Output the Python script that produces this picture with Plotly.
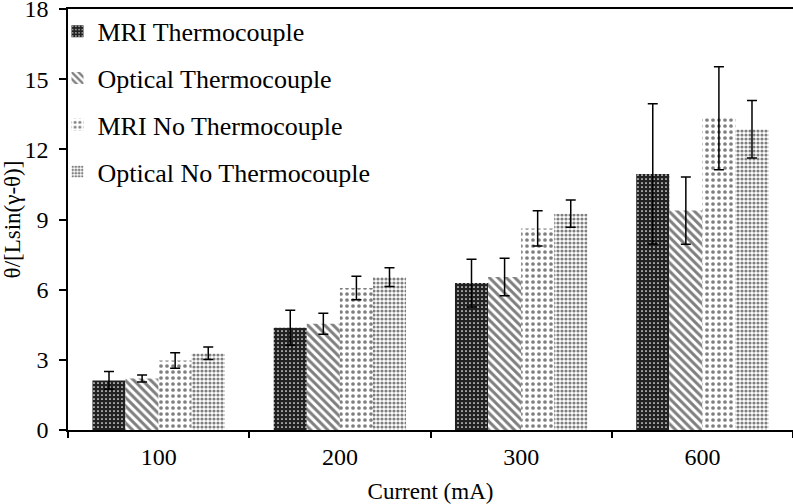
import plotly.graph_objects as go

categories = ["100", "200", "300", "600"]
series_names = ["MRI Thermocouple", "Optical Thermocouple", "MRI No Thermocouple", "Optical No Thermocouple"]
mri_tc = [2.12, 4.37, 6.28, 10.95]
mri_tc_err = [0.38, 0.75, 1.02, 3.0]
opt_tc = [2.2, 4.54, 6.54, 9.38]
opt_tc_err = [0.15, 0.45, 0.8, 1.44]
mri_ntc = [2.97, 6.07, 8.62, 13.33]
mri_ntc_err = [0.33, 0.5, 0.75, 2.2]
opt_ntc = [3.28, 6.54, 9.25, 12.86]
opt_ntc_err = [0.27, 0.4, 0.58, 1.23]
y_ticks = [0, 3, 6, 9, 12, 15, 18]

values = [mri_tc, opt_tc, mri_ntc, opt_ntc]
errors = [mri_tc_err, opt_tc_err, mri_ntc_err, opt_ntc_err]
patterns = [
    dict(shape=".", size=4, solidity=0.15, fgcolor="white", bgcolor="#222222", fillmode="replace"),
    dict(shape="\\", size=6, solidity=0.5, fgcolor="black", bgcolor="white"),
    dict(shape=".", size=6, solidity=0.3, fgcolor="black", bgcolor="white"),
    dict(shape=".", size=4, solidity=0.5, fgcolor="black", bgcolor="white"),
]
colors = ["#222222", "white", "white", "white"]

FONT = "Liberation Serif"
fig = go.Figure()
for i, (name, v, e, p, c) in enumerate(zip(series_names, values, errors, patterns, colors)):
    fig.add_trace(go.Bar(
        name=name, x=categories, y=v,
        marker=dict(color=c, line=dict(width=0), pattern=p),
        error_y=dict(type="data", array=e, visible=True, color="black", thickness=1.5, width=5),
        legendgroup=f"g{i}",
    ))

fig.update_layout(
    width=793, height=504,
    margin=dict(l=68, r=0, t=9, b=74),
    barmode="group", bargap=0.27, bargroupgap=0,
    plot_bgcolor="white", paper_bgcolor="white",
    font=dict(family=FONT, color="black", size=24),
    legend=dict(x=-0.0145, y=1.003, xanchor="left", yanchor="top", bgcolor="rgba(0,0,0,0)",
                font=dict(family=FONT, size=26), traceorder="grouped", tracegroupgap=10),
    showlegend=True,
)
fig.update_xaxes(
    type="category", showline=True, linecolor="black", linewidth=1.5, mirror=True,
    ticks="outside", tickson="boundaries", ticklen=6, tickcolor="black", tickwidth=1.5,
    tickfont=dict(family=FONT, size=24), automargin=False, ticklabelstandoff=4,
    title=dict(text="Current (mA)", font=dict(family=FONT, size=23), standoff=33),
    showgrid=False,
)
fig.update_yaxes(
    range=[0, 18], tickvals=y_ticks, showline=True, linecolor="black", linewidth=1.5,
    ticks="outside", ticklen=7, tickcolor="black", tickwidth=1.5,
    tickfont=dict(family=FONT, size=24), automargin=False, ticklabeloverflow="allow",
    ticklabelstandoff=6,
    title=dict(text="θ/[Lsin(γ-θ)]", font=dict(family=FONT, size=23), standoff=11),
    showgrid=False, zeroline=False,
)
fig.write_html("out.html", config={"displayModeBar": False},
               post_script="document.body.style.margin='0';")
